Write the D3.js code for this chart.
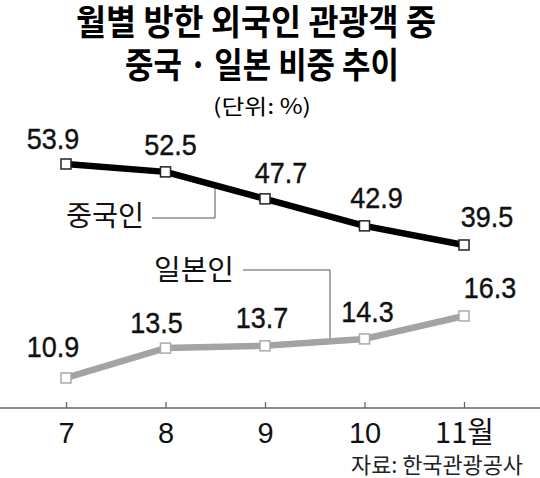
<!DOCTYPE html>
<html><head><meta charset="utf-8">
<script src="https://cdn.jsdelivr.net/npm/d3@7"></script>
<style>
html,body{margin:0;padding:0;background:#fff;}
svg{display:block;}
</style></head>
<body>
<svg id="chart" width="540" height="478"></svg>
<script>
const months = [7, 8, 9, 10, 11];
const tickLabels = ["7", "8", "9", "10", "11월"];
const chinaValues = [53.9, 52.5, 47.7, 42.9, 39.5];
const japanValues = [10.9, 13.5, 13.7, 14.3, 16.3];
const chinaLabelNudge = [[-13, -15], [5, -17], [16, -16], [12, -18], [23, -18]];
const japanLabelNudge = [[-13, -21], [-9, -15], [-3, -18], [3, -17], [26, -18]];

const svg = d3.select("#chart");
const KR = "'Noto Sans CJK KR','Noto Sans CJK SC',sans-serif";
const NUM = "'Liberation Sans',Arial,sans-serif";

const x = d3.scalePoint().domain(months).range([66, 464]);
const yC = d3.scaleLinear().domain([30, 60]).range([298.4, 129.7]);
const yJ = d3.scaleLinear().domain([10, 20]).range([388.3, 273.5]);

// Title
function fitText(sel, len) { sel.attr("textLength", len).attr("lengthAdjust", "spacingAndGlyphs"); }
svg.append("text").attr("x", 256).attr("y", 35).attr("text-anchor", "middle")
  .attr("font-family", KR).attr("font-weight", 700).attr("font-size", 35)
  .text("월별 방한 외국인 관광객 중").call(fitText, 360);
svg.append("text").attr("x", 262).attr("y", 78).attr("text-anchor", "middle")
  .attr("font-family", KR).attr("font-weight", 700).attr("font-size", 35)
  .text("중국 · 일본 비중 추이").call(fitText, 274);
svg.append("text").attr("x", 262).attr("y", 114).attr("text-anchor", "middle")
  .attr("font-family", KR).attr("font-size", 21)
  .text("(단위: %)").call(fitText, 98);

// Axis
svg.append("line").attr("x1", 0).attr("x2", 540).attr("y1", 408).attr("y2", 408)
  .attr("stroke", "#666").attr("stroke-width", 1.5);
const axis = d3.axisBottom(x).tickSizeInner(-6).tickSizeOuter(0).tickPadding(14)
  .tickFormat((d, i) => tickLabels[i]);
const ax = svg.append("g").attr("transform", "translate(0,408)").call(axis);
ax.select(".domain").remove();
ax.selectAll(".tick line").attr("stroke", "#666").attr("stroke-width", 1.3);
ax.selectAll(".tick text").attr("fill", "#111").attr("font-size", 29)
  .attr("font-family", NUM).style("font-family", (d, i) => i === 4 ? KR : NUM);

// Lines
const lineC = d3.line().x((d, i) => x(months[i])).y(d => yC(d));
const lineJ = d3.line().x((d, i) => x(months[i])).y(d => yJ(d));

function interpY(vals, scale, px) {
  for (let i = 0; i < months.length - 1; i++) {
    const x0 = x(months[i]), x1 = x(months[i + 1]);
    if (px >= x0 && px <= x1) {
      const t = (px - x0) / (x1 - x0);
      return scale(vals[i]) * (1 - t) + scale(vals[i + 1]) * t;
    }
  }
  return scale(vals[0]);
}

// leaders
const lc = { x0: 152, x1: 215, y: 218 };
svg.append("path").attr("fill", "none").attr("stroke", "#555").attr("stroke-width", 1)
  .attr("d", `M${lc.x0},${lc.y}H${lc.x1}V${interpY(chinaValues, yC, lc.x1)}`);
const lj = { x0: 243, x1: 330, y: 270 };
svg.append("path").attr("fill", "none").attr("stroke", "#555").attr("stroke-width", 1)
  .attr("d", `M${lj.x0},${lj.y}H${lj.x1}V${interpY(japanValues, yJ, lj.x1)}`);

svg.append("path").datum(chinaValues).attr("d", lineC).attr("fill", "none")
  .attr("stroke", "#000").attr("stroke-width", 6.5).attr("stroke-linejoin", "round");
svg.append("path").datum(japanValues).attr("d", lineJ).attr("fill", "none")
  .attr("stroke", "#a3a3a5").attr("stroke-width", 6.5).attr("stroke-linejoin", "round");

const ms = 10;
svg.append("g").selectAll("rect").data(chinaValues).join("rect")
  .attr("x", (d, i) => x(months[i]) - ms / 2).attr("y", d => yC(d) - ms / 2)
  .attr("width", ms).attr("height", ms).attr("fill", "#fff")
  .attr("stroke", "#222").attr("stroke-width", 1.5);
svg.append("g").selectAll("rect").data(japanValues).join("rect")
  .attr("x", (d, i) => x(months[i]) - ms / 2).attr("y", d => yJ(d) - ms / 2)
  .attr("width", ms).attr("height", ms).attr("fill", "#fff")
  .attr("stroke", "#aaa").attr("stroke-width", 1.5);

// value labels
function valueLabels(vals, scale, nudge) {
  svg.append("g").selectAll("text").data(vals).join("text")
    .attr("transform", (d, i) => `translate(${x(months[i]) + nudge[i][0]},${scale(d) + nudge[i][1]}) scale(0.9,1)`)
    .attr("text-anchor", "middle").attr("font-family", NUM).attr("font-size", 30)
    .attr("fill", "#111").attr("stroke", "#111").attr("stroke-width", 0.4)
    .text(d => d.toFixed(1));
}
valueLabels(chinaValues, yC, chinaLabelNudge);
valueLabels(japanValues, yJ, japanLabelNudge);

// series labels
svg.append("text").attr("x", 66).attr("y", 226).attr("font-family", KR).attr("font-size", 28)
  .attr("fill", "#111").text("중국인").call(fitText, 78);
svg.append("text").attr("x", 154).attr("y", 280).attr("font-family", KR).attr("font-size", 28)
  .attr("fill", "#111").text("일본인").call(fitText, 80);

// source
svg.append("text").attr("x", 523).attr("y", 473).attr("text-anchor", "end")
  .attr("font-family", KR).attr("font-size", 22).attr("fill", "#222")
  .text("자료: 한국관광공사").call(fitText, 172);
</script>
</body></html>
